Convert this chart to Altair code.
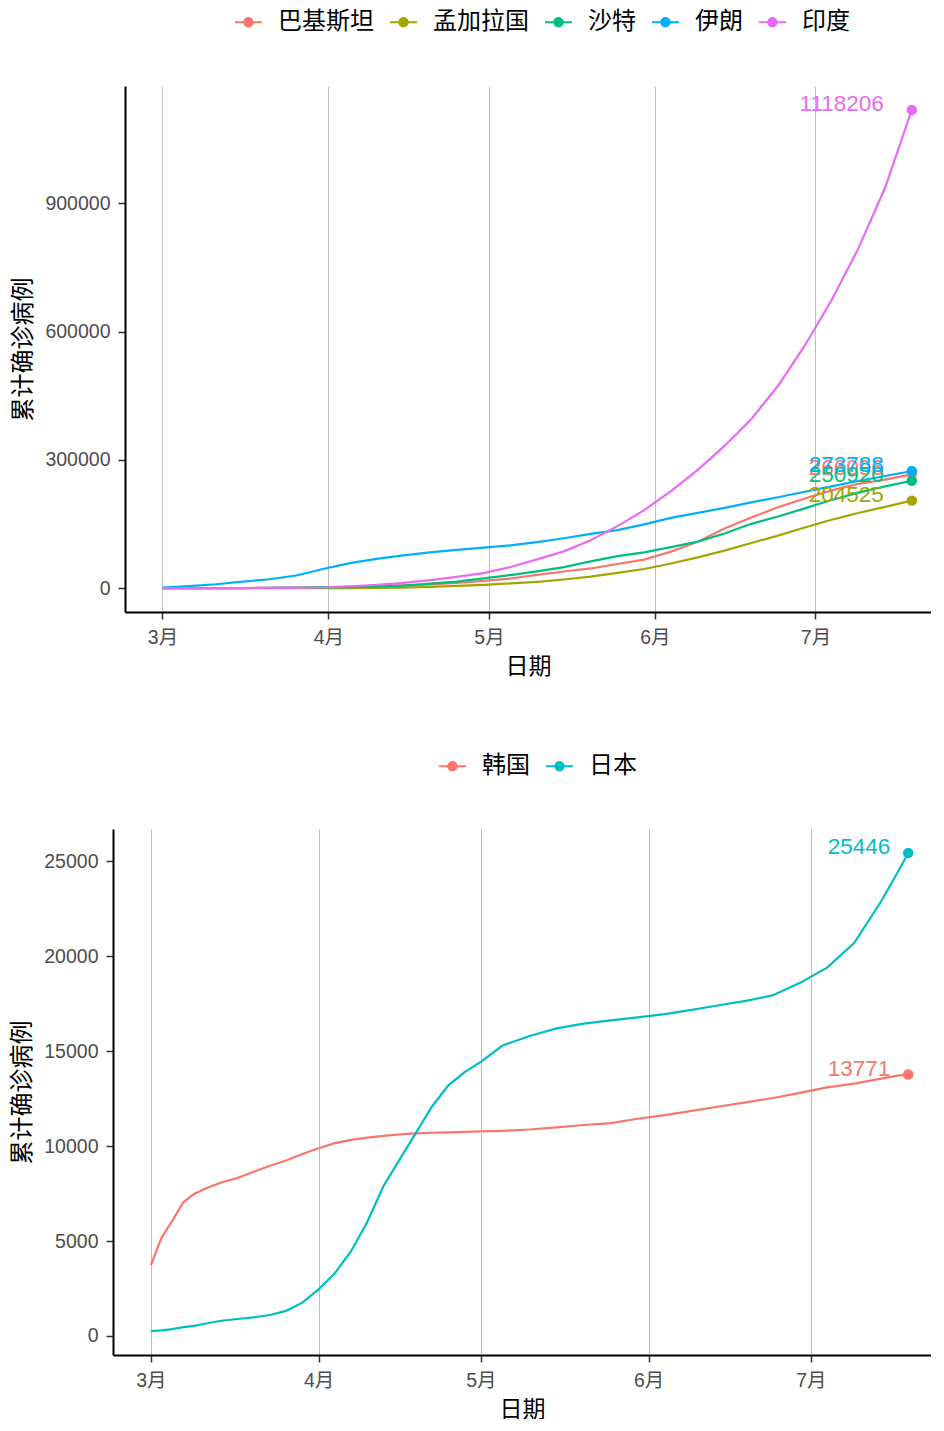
import altair as alt
import pandas as pd

FONT_CJK = "Noto Sans CJK SC"
FONT_NUM = "Liberation Sans, Noto Sans CJK SC"

# ---------------- top panel data ----------------
top_dates = ["2020-03-01", "2020-03-06", "2020-03-11", "2020-03-16", "2020-03-21", "2020-03-26",
             "2020-03-31", "2020-04-05", "2020-04-10", "2020-04-15", "2020-04-20", "2020-04-25",
             "2020-04-30", "2020-05-05", "2020-05-10", "2020-05-15", "2020-05-20", "2020-05-25",
             "2020-05-30", "2020-06-04", "2020-06-09", "2020-06-14", "2020-06-19", "2020-06-24",
             "2020-06-29", "2020-07-04", "2020-07-09", "2020-07-14", "2020-07-19"]
top_countries = ["巴基斯坦", "孟加拉国", "沙特", "伊朗", "印度"]
top_colors = ["#F8766D", "#A3A500", "#00BF7D", "#00B0F6", "#E76BF3"]
pakistan = [4, 6, 20, 187, 645, 1179, 2039, 3157, 4601, 6383, 8418, 11940, 16817, 22413, 30941,
            38799, 45898, 56349, 66457, 85264, 108317, 139230, 165062, 188926, 209337, 228474,
            243599, 253604, 266096]
bangladesh = [0, 0, 3, 8, 24, 44, 51, 88, 424, 1231, 2948, 4998, 7667, 10929, 14657, 20065, 26738,
              35585, 44608, 57563, 71675, 87520, 105535, 122660, 141801, 159679, 175494, 190057,
              204525]
saudi = [0, 5, 21, 118, 392, 1012, 1563, 2385, 3651, 5862, 10484, 15102, 22753, 30251, 39048,
         49176, 62545, 74795, 83384, 95748, 108571, 127541, 150292, 167267, 186436, 205929,
         223327, 237803, 250920]
iran = [978, 4747, 9000, 14991, 20610, 29406, 44605, 58226, 68192, 76389, 83505, 89328, 94640,
        99970, 107603, 116635, 126949, 135701, 148950, 164270, 175927, 187427, 200262, 212501,
        225205, 237878, 250458, 262173, 273788]
india = [3, 31, 62, 119, 330, 724, 1397, 4289, 7600, 12380, 18539, 26283, 34863, 49400, 67161,
         85940, 112028, 144950, 182143, 226770, 276583, 332424, 395048, 473105, 566840, 673165,
         793802, 936181, 1118206]
top_series = [pakistan, bangladesh, saudi, iran, india]

# ---------------- bottom panel data ----------------
bot_dates = ["2020-03-01", "2020-03-03", "2020-03-05", "2020-03-07", "2020-03-09", "2020-03-11",
             "2020-03-14", "2020-03-17", "2020-03-20", "2020-03-23", "2020-03-26", "2020-03-29",
             "2020-04-01", "2020-04-04", "2020-04-07", "2020-04-10", "2020-04-13", "2020-04-16",
             "2020-04-19", "2020-04-22", "2020-04-25", "2020-04-28", "2020-05-01", "2020-05-05",
             "2020-05-10", "2020-05-15", "2020-05-20", "2020-05-25", "2020-05-30", "2020-06-04",
             "2020-06-09", "2020-06-14", "2020-06-19", "2020-06-24", "2020-06-29", "2020-07-04",
             "2020-07-09", "2020-07-14", "2020-07-17", "2020-07-19"]
bot_countries = ["韩国", "日本"]
bot_colors = ["#F8766D", "#00BFC4"]
korea = [3736, 5186, 6088, 7041, 7478, 7755, 8086, 8320, 8652, 8961, 9241, 9583, 9887, 10156,
         10331, 10450, 10537, 10613, 10674, 10702, 10728, 10752, 10774, 10806, 10874, 10991,
         11110, 11206, 11441, 11629, 11852, 12085, 12306, 12535, 12800, 13091, 13293, 13551,
         13711, 13771]
japan = [256, 290, 360, 460, 530, 640, 800, 890, 980, 1100, 1320, 1750, 2450, 3300, 4460, 6000,
         7900, 9300, 10700, 12100, 13200, 13900, 14440, 15300, 15800, 16200, 16450, 16620, 16780,
         16950, 17180, 17420, 17650, 17950, 18600, 19400, 20700, 22900, 24400, 25446]
bot_series = [korea, japan]

LEGEND_PATH = ("M-1,-0.08H1V0.08H-1Z "
               "M-0.38,0A0.38,0.38,0,1,1,0.38,0A0.38,0.38,0,1,1,-0.38,0Z")


def long_frame(dates, countries, series):
    rows = []
    for name, vals in zip(countries, series):
        for d, v in zip(dates, vals):
            rows.append({"date": d, "country": name, "value": v})
    return pd.DataFrame(rows)


def end_frame(dates, countries, series):
    return pd.DataFrame([{"date": dates[-1], "country": n, "value": v[-1], "label": str(v[-1])}
                         for n, v in zip(countries, series)])


def dt(m, d, h=0):
    return alt.DateTime(year=2020, month=m, date=d, hours=h, utc=True)


def panel(dates, countries, colors, series, ydomain, yvalues, width, height, xrange, xend,
          yoffset, lx, ly, tdx):
    df = long_frame(dates, countries, series)
    ef = end_frame(dates, countries, series)
    xenc = alt.X("date:T",
                 scale=alt.Scale(type="utc", domain=[dt(2, 23), xend], nice=False, range=xrange),
                 axis=alt.Axis(values=[dt(m, 1) for m in range(3, 8)], format="%-m月",
                               title="日期", grid=True, labelPadding=9, titlePadding=9,
                               titleFontSize=23))
    yenc = alt.Y("value:Q", scale=alt.Scale(domain=ydomain, nice=False, zero=False),
                 axis=alt.Axis(values=yvalues, format="d", title="累计确诊病例", grid=False,
                               labelPadding=8, titlePadding=9, offset=yoffset,
                               titleFontSize=24))
    legend = alt.Legend(orient="none", legendX=lx, legendY=ly, direction="horizontal",
                        title=None, symbolType=LEGEND_PATH, symbolSize=729,
                        symbolStrokeWidth=0, labelFontSize=24, labelFont=FONT_CJK,
                        labelColor="#000000", labelOffset=16, columnPadding=16,
                        symbolOpacity=1, padding=0)
    cenc = alt.Color("country:N", scale=alt.Scale(domain=countries, range=colors), legend=legend)
    lines = alt.Chart(df).mark_line(strokeWidth=2.2).encode(x=xenc, y=yenc, color=cenc,
                                                             detail="country:N")
    pts = alt.Chart(ef).mark_circle(size=110, opacity=1).encode(x=xenc, y=yenc, color=cenc)
    txt = alt.Chart(ef).mark_text(align="right", baseline="middle", dx=tdx, dy=-6,
                                  fontSize=22.5, font=FONT_NUM).encode(
        x=xenc, y=yenc, text="label:N",
        color=alt.Color("country:N", scale=alt.Scale(domain=countries, range=colors),
                        legend=None))
    return alt.layer(lines, pts, txt).properties(width=width, height=height)


top = panel(top_dates, top_countries, top_colors, top_series,
            [-55910, 1174116], [0, 300000, 600000, 900000], 818, 526, [12, 818],
            dt(7, 22, 14), -12, 122, -77.5, -28)
bottom = panel(bot_dates, bot_countries, bot_colors, bot_series,
               [-1006, 26706], [0, 5000, 10000, 15000, 20000, 25000], 818, 526, [0, 818],
               dt(7, 23, 5), 0, 326, -76.5, -18)

chart = alt.concat(top, bottom, columns=1, spacing=73).resolve_scale(
    color="independent", x="independent", y="independent"
).properties(
    padding={"left": 2, "top": 0, "right": 0, "bottom": -3}
).configure_view(stroke=None).configure_axis(
    domainColor="#000000", domainWidth=2, tickColor="#333333", tickWidth=1.5, tickSize=7,
    labelColor="#4D4D4D", labelFontSize=19.5, labelFont=FONT_NUM,
    titleFont=FONT_CJK, titleFontSize=23.5, titleFontWeight="normal", titleColor="#000000",
    gridColor="#BEBEBE", gridWidth=1
).configure_legend(symbolStrokeWidth=0)

chart.save("out.html", embed_options={"renderer": "svg", "actions": False})
